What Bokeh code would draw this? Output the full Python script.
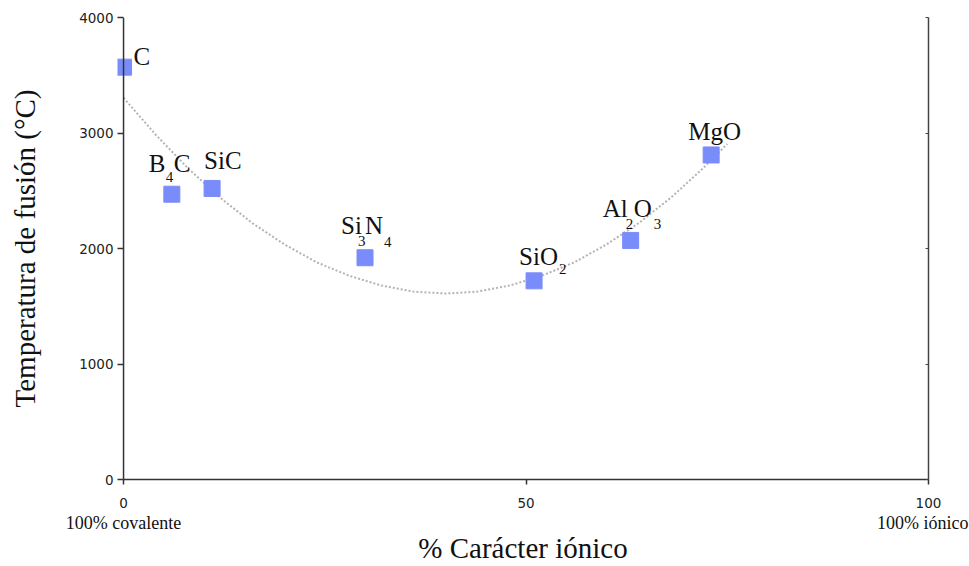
from bokeh.plotting import figure
from bokeh.models import Range1d, FixedTicker, LinearAxis, ColumnDataSource, CustomJSTickFormatter, Span
from bokeh.core.properties import value
from bokeh.embed import file_html
from bokeh.resources import INLINE

# ---- data ----
materials = ["C", "B4C", "SiC", "Si3N4", "SiO2", "Al2O3", "MgO"]
ionic_pct = [0, 6, 11, 30, 51, 63, 73]
melt_temp = [3570, 2470, 2520, 1920, 1720, 2070, 2810]

# trend curve
trend_x = [0, 4, 8, 12, 16, 20, 24, 28, 32, 36, 40, 44, 48, 52, 56, 60, 64, 68, 72, 75]
trend_y = [3305, 2985, 2695, 2440, 2220, 2035, 1880, 1765, 1680, 1627, 1610, 1627, 1680, 1765, 1880, 2035, 2220, 2440, 2695, 2905]

x_ticks = [0, 50, 100]
y_ticks = [0, 1000, 2000, 3000, 4000]
end_ticks = [0, 99.3]
end_labels = ["100% covalente", "100% iónico"]

# ---- label layout (text pieces, subscript flag, pixel offsets from marker) ----
label_layout = {
    "C": [("C", False, 10, -11)],
    "B4C": [("B", False, -23, -31), ("4", True, -6, -17), ("C", False, 2, -31)],
    "SiC": [("SiC", False, -8, -28)],
    "Si3N4": [("Si", False, -24, -32), ("3", True, -7, -17), ("N", False, 0, -32), ("4", True, 19, -16)],
    "SiO2": [("SiO", False, -15, -24), ("2", True, 25, -12)],
    "Al2O3": [("Al", False, -28, -32), ("2", True, -5, -16), ("O", False, 3, -32), ("3", True, 23, -16)],
    "MgO": [("MgO", False, -23, -23)],
}

serif = "Liberation Serif"
sans = "DejaVu Sans"

p = figure(width=969, height=566, output_backend="svg", toolbar_location=None,
           x_range=Range1d(-0.75, 100), y_range=Range1d(0, 4000),
           min_border_left=117, min_border_right=41, min_border_top=17, min_border_bottom=87)
p.xgrid.visible = False
p.ygrid.visible = False
p.outline_line_color = None
p.background_fill_color = "white"
p.border_fill_color = "white"

# trend line
p.line(trend_x, trend_y, line_color="#b3b3b3", line_width=2, line_dash="2 2")

# markers
p.scatter(ionic_pct, melt_temp, marker="square", size=16, fill_color="#7a8cfa", line_color="#7a8cfa")

# labels
seg = dict(x=[], y=[], text=[], xo=[], yo=[], size=[])
for m, xv, yv in zip(materials, ionic_pct, melt_temp):
    for txt, sub, dx, dy in label_layout[m]:
        seg["x"].append(xv)
        seg["y"].append(yv)
        seg["text"].append(txt)
        seg["xo"].append(dx)
        seg["yo"].append(dy)
        seg["size"].append("15px" if sub else "25px")
src = ColumnDataSource(seg)
p.text(x="x", y="y", text="text", x_offset="xo", y_offset="yo", text_font_size="size",
       text_font=value(serif), text_color="#111111", text_align="left",
       text_baseline="alphabetic", source=src)

# axes
for ax in (p.xaxis[0], p.yaxis[0]):
    ax.axis_line_color = "#333333"
    ax.axis_line_width = 1.5
    ax.major_tick_line_color = "#333333"
    ax.major_tick_line_width = 1.5
    ax.major_tick_out = 5
    ax.major_tick_in = 0
    ax.minor_tick_line_color = None
    ax.major_label_text_font = sans
    ax.major_label_text_font_size = "13.5px"
    ax.major_label_text_color = "#222222"
    ax.axis_label_text_font = serif
    ax.axis_label_text_font_size = "29px"
    ax.axis_label_text_font_style = "normal"
    ax.axis_label_text_color = "#111111"

p.xaxis[0].ticker = FixedTicker(ticks=x_ticks)
p.xaxis[0].bounds = (0, 100)
p.xaxis[0].major_label_standoff = 13

yax = p.yaxis[0]
yax.ticker = FixedTicker(ticks=y_ticks)
yax.axis_line_color = None
yax.major_tick_out = 0
yax.major_tick_in = 6
yax.major_label_standoff = 4
yax.axis_label = "Temperatura de fusión (°C)"
yax.axis_label_standoff = 35
# vertical axis line at x = 0
p.add_layout(Span(location=0, dimension="height", line_color="#333333", line_width=1.5))

# second bottom axis carrying the end descriptions and the title
ends = LinearAxis(ticker=FixedTicker(ticks=end_ticks),
                  major_label_overrides={t: s for t, s in zip(end_ticks, end_labels)})
ends.axis_line_color = None
ends.major_tick_line_color = None
ends.minor_tick_line_color = None
ends.major_label_standoff = -4
ends.major_label_text_font = serif
ends.major_label_text_font_size = "18px"
ends.major_label_text_color = "#111111"
ends.axis_label = "% Carácter iónico"
ends.axis_label_text_font = serif
ends.axis_label_text_font_size = "29px"
ends.axis_label_text_font_style = "normal"
ends.axis_label_text_color = "#111111"
ends.axis_label_standoff = -4
p.add_layout(ends, "below")

right = LinearAxis(ticker=FixedTicker(ticks=y_ticks),
                   formatter=CustomJSTickFormatter(code="return ''"))
right.axis_line_color = "#444444"
right.axis_line_width = 1.5
right.major_tick_in = 3
right.major_tick_out = 0
right.major_tick_line_color = "#444444"
right.minor_tick_line_color = None
p.add_layout(right, "right")

open("out.html", "w").write(file_html(p, INLINE))
